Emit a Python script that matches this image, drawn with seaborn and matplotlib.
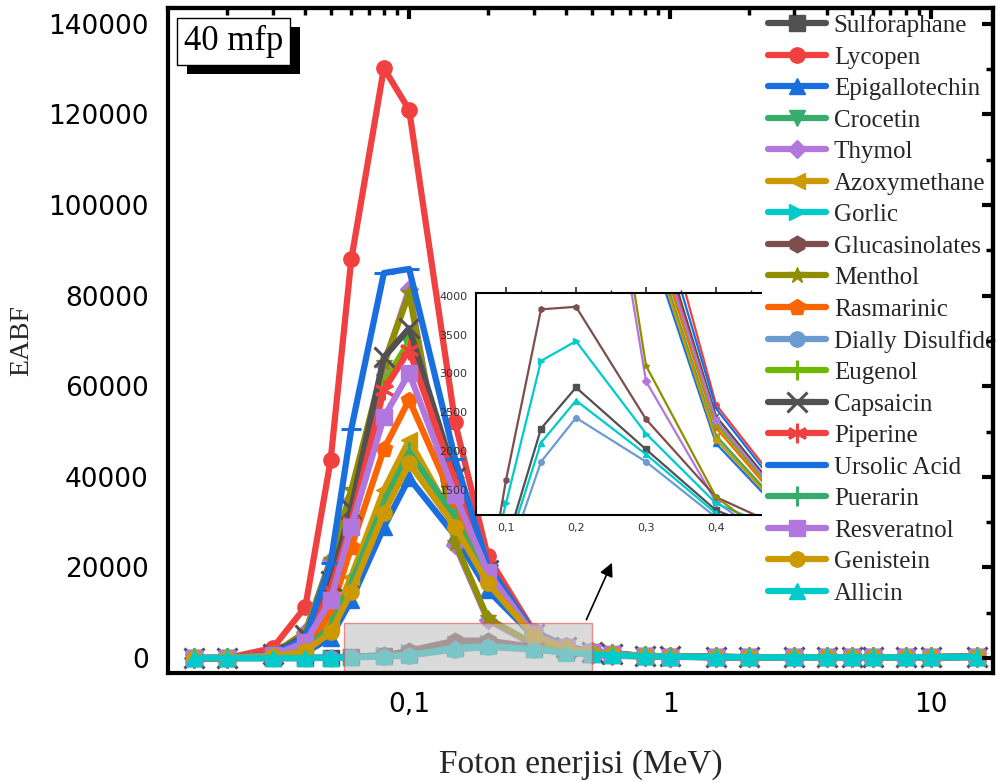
import matplotlib
matplotlib.use("Agg")
import matplotlib.pyplot as plt
import matplotlib.patheffects as pe
import seaborn as sns
from matplotlib.patches import Rectangle
from matplotlib.ticker import FixedLocator, FuncFormatter, LogLocator, MultipleLocator, NullFormatter

sns.set_theme(style="white")
plt.rcParams["font.family"] = ["DejaVu Sans"]

# ---------------- data ----------------
energy = [0.015, 0.02, 0.03, 0.04, 0.05, 0.06, 0.08, 0.1, 0.15, 0.2, 0.3, 0.4, 0.5,
          0.6, 0.8, 1, 1.5, 2, 3, 4, 5, 6, 8, 10, 15]

names = ["Sulforaphane", "Lycopen", "Epigallotechin", "Crocetin", "Thymol", "Azoxymethane",
         "Gorlic", "Glucasinolates", "Menthol", "Rasmarinic", "Dially Disulfide", "Eugenol",
         "Capsaicin", "Piperine", "Ursolic Acid", "Puerarin", "Resveratnol", "Genistein", "Allicin"]

sulforaphane = [0, 0, 3, 12, 50, 200, 400, 790, 2291, 2820, 2024, 1240, 900, 640, 420, 300, 215, 175, 148, 138, 134, 138, 152, 178, 236]
lycopen = [2, 5, 2200, 11300, 43700, 88000, 130200, 121000, 52000, 22500, 5900, 2600, 1450, 950, 520, 360, 250, 200, 170, 160, 160, 170, 190, 220, 300]
epigallotechin = [1, 2, 300, 1200, 4500, 12800, 28900, 39700, 27000, 15000, 4800, 2100, 1150, 800, 450, 320, 225, 185, 155, 145, 145, 155, 175, 200, 270]
crocetin = [1, 3, 700, 3500, 14000, 31000, 61000, 69500, 38000, 18500, 5200, 2350, 1300, 860, 480, 340, 240, 195, 165, 155, 155, 165, 185, 212, 285]
thymol = [1, 3, 850, 5700, 21600, 35000, 64700, 81500, 25000, 8400, 2900, 1350, 720, 520, 350, 260, 190, 160, 140, 132, 132, 140, 158, 185, 245]
azoxymethane = [1, 2, 400, 2000, 7500, 18000, 37100, 48100, 30000, 17000, 5000, 2200, 1220, 820, 460, 330, 230, 190, 160, 150, 150, 160, 180, 205, 275]
gorlic = [0, 0, 4, 15, 60, 250, 632, 1330, 3162, 3416, 2227, 1330, 950, 670, 430, 310, 220, 178, 150, 140, 135, 140, 155, 180, 240]
glucasinolates = [0, 0, 5, 20, 80, 300, 585, 1629, 3825, 3858, 2411, 1410, 1000, 700, 450, 320, 225, 182, 152, 142, 137, 142, 157, 182, 244]
menthol = [1, 3, 900, 5700, 21600, 37000, 65100, 80500, 25500, 8800, 3100, 1410, 750, 540, 360, 265, 195, 163, 142, 134, 134, 142, 160, 188, 250]
rasmarinic = [1, 3, 500, 2500, 10000, 24500, 46100, 57000, 34000, 18000, 5100, 2300, 1260, 840, 470, 335, 235, 192, 162, 152, 152, 162, 182, 208, 280]
dially = [0, 0, 2, 8, 40, 150, 300, 548, 1865, 2430, 1865, 1150, 850, 600, 400, 290, 210, 172, 146, 136, 132, 136, 150, 175, 232]
eugenol = [1, 3, 700, 3500, 14000, 30500, 60500, 70000, 38000, 18500, 5200, 2350, 1300, 860, 480, 340, 240, 195, 165, 155, 155, 165, 185, 212, 285]
capsaicin = [1, 3, 800, 5000, 17000, 33000, 66400, 72800, 40000, 19500, 5400, 2450, 1350, 900, 490, 345, 240, 195, 165, 155, 155, 165, 185, 215, 290]
piperine = [1, 3, 750, 4000, 15000, 30000, 59200, 68000, 39000, 19000, 5300, 2400, 1320, 890, 485, 340, 240, 195, 165, 155, 155, 165, 185, 215, 290]
ursolic = [1, 3, 700, 4500, 21000, 50600, 85000, 85900, 44000, 20500, 5600, 2550, 1400, 920, 500, 350, 240, 195, 165, 155, 155, 165, 185, 215, 290]
puerarin = [1, 2, 400, 1800, 7000, 16500, 34200, 45500, 31000, 17000, 4950, 2200, 1200, 810, 455, 328, 228, 188, 158, 148, 148, 158, 178, 203, 272]
resveratnol = [1, 3, 600, 3500, 12800, 28900, 53200, 62900, 36000, 19000, 5200, 2400, 1320, 880, 480, 340, 238, 194, 164, 154, 154, 164, 184, 212, 286]
genistein = [1, 2, 350, 1500, 5700, 14600, 32000, 43000, 29000, 16600, 4900, 2150, 1180, 805, 452, 325, 226, 186, 156, 146, 146, 156, 176, 202, 271]
allicin = [0, 0, 3, 10, 45, 180, 350, 700, 2110, 2652, 1960, 1200, 880, 620, 410, 295, 212, 174, 147, 137, 133, 137, 151, 176, 234]

series = [sulforaphane, lycopen, epigallotechin, crocetin, thymol, azoxymethane, gorlic,
          glucasinolates, menthol, rasmarinic, dially, eugenol, capsaicin, piperine, ursolic,
          puerarin, resveratnol, genistein, allicin]

colors = ["#515151", "#F14040", "#1A6FDF", "#37AD6B", "#B177DE", "#CC9900", "#00CBCC",
          "#7D4E4E", "#8E8E00", "#FB6501", "#6C9BD2", "#6FB802", "#515151", "#F14040",
          "#1A6FDF", "#37AD6B", "#B177DE", "#CC9900", "#00CBCC"]
markers = ["s", "o", "^", "v", "D", "<", ">", "h", "*", "p", "o", "|", "x", (6, 2, 0),
           "_", "|", "s", "o", "^"]
line_markers = {"|", "x", "_"}

inset_xticks = [0.1, 0.2, 0.3, 0.4]

# ---------------- figure ----------------
fig = plt.figure(figsize=(10, 7.82), dpi=100)
ax = fig.add_axes([0.168, 1 - 673 / 782, 0.825, 665 / 782])
ax.set_facecolor("white")

for name, vals, c, m in zip(names, series, colors, markers):
    is_line = (m in line_markers) if isinstance(m, str) else True
    ms = 11 if m not in ("D", "*", "h", "p") else (9 if m == "D" else 12)
    if is_line:
        ms = 14
    sns.lineplot(x=energy, y=vals, ax=ax, color=c, marker=m, lw=4.5, ms=ms,
                 mec=c, mfc=c, mew=(2.2 if is_line else 1), label=name, zorder=2)

ax.set_xscale("log")
ax.set_xlim(0.0119, 17.3)
ax.set_ylim(-3300, 143500)

fmt = FuncFormatter(lambda v, _: f"{v:g}".replace(".", ","))
ax.xaxis.set_major_locator(FixedLocator([0.1, 1, 10]))
ax.xaxis.set_major_formatter(fmt)
ax.xaxis.set_minor_locator(LogLocator(base=10, subs=range(2, 10)))
ax.xaxis.set_minor_formatter(NullFormatter())
ax.yaxis.set_major_locator(MultipleLocator(20000))
ax.yaxis.set_minor_locator(MultipleLocator(10000))
ax.yaxis.set_major_formatter(FuncFormatter(lambda v, _: f"{v:.0f}"))

for s in ax.spines.values():
    s.set_linewidth(3)
    s.set_color("black")
    s.set_zorder(30)
ax.tick_params(which="major", direction="out", length=8, width=3, labelsize=19,
               colors="black", pad=6)
ax.tick_params(which="minor", direction="out", length=5, width=2.5, colors="black")

# inward mirror ticks on top and right
top = ax.secondary_xaxis("top")
top.xaxis.set_major_locator(FixedLocator([0.1, 1, 10]))
top.xaxis.set_minor_locator(LogLocator(base=10, subs=range(2, 10)))
top.tick_params(which="major", direction="in", length=8, width=3, labeltop=False, colors="black")
top.tick_params(which="minor", direction="in", length=5, width=2.5, colors="black")
top.xaxis.set_major_formatter(NullFormatter())
top.xaxis.set_minor_formatter(NullFormatter())
for s in top.spines.values():
    s.set_linewidth(3)
    s.set_color("black")
top.set_zorder(30)
right = ax.secondary_yaxis("right")
right.yaxis.set_major_locator(MultipleLocator(20000))
right.yaxis.set_minor_locator(MultipleLocator(10000))
right.tick_params(which="major", direction="in", length=8, width=3, labelright=False, colors="black")
right.tick_params(which="minor", direction="in", length=5, width=2.5, colors="black")
right.yaxis.set_major_formatter(NullFormatter())
for s in right.spines.values():
    s.set_linewidth(3)
    s.set_color("black")
right.set_zorder(30)

ax.set_xlabel("Foton enerjisi (MeV)", family="Liberation Serif", fontsize=24, labelpad=22)
ax.set_ylabel("EABF", family="Liberation Serif", fontsize=20, labelpad=10)

# zoom box and arrow
zx0, zx1, zy0, zy1 = 0.0564, 0.503, -3300, 7700
ax.add_patch(Rectangle((zx0, zy0), zx1 - zx0, zy1 - zy0, facecolor="#C4C4C4", alpha=0.62,
                       edgecolor="#E05050", lw=1.0, zorder=3))
ax.annotate("", xy=(0.605, 21600), xytext=(0.473, zy1 + 200),
            arrowprops=dict(arrowstyle="-|>", color="black", lw=1.2, mutation_scale=20),
            zorder=4)

# "40 mfp" label with shadow
lbl = ax.text(0.079, 0.949, "40 mfp", transform=ax.transAxes, family="Liberation Serif",
              fontsize=25, ha="center", va="center", color="black",
              bbox=dict(boxstyle="square,pad=0.2", fc="white", ec="black", lw=1), zorder=7)
lbl.get_bbox_patch().set_path_effects([
    pe.SimplePatchShadow(offset=(7.2, -6.5), shadow_rgbFace="black", alpha=1.0),
    pe.Normal()])

# ---------------- inset ----------------
ins = ax.inset_axes([0.3733, 0.2376, 0.3758, 0.3338])
ins.set_facecolor("white")
for name, vals, c, m in zip(names, series, colors, markers):
    sns.lineplot(x=energy, y=vals, ax=ins, color=c, marker=m, lw=1.6, ms=4,
                 mec=c, mfc=c, mew=1, legend=False)
ins.set_xlim(0.0571, 0.5)
ins.set_ylim(1180, 4035)
ins.xaxis.set_major_locator(FixedLocator(inset_xticks))
ins.xaxis.set_minor_locator(MultipleLocator(0.05))
ins.xaxis.set_major_formatter(FuncFormatter(lambda v, _: f"{v:.1f}".replace(".", ",")))
ins.yaxis.set_major_locator(MultipleLocator(500))
ins.yaxis.set_minor_locator(MultipleLocator(250))
ins.yaxis.set_major_formatter(FuncFormatter(lambda v, _: f"{v:.0f}"))
for s in ins.spines.values():
    s.set_linewidth(1.5)
    s.set_color("black")
ins.tick_params(which="major", direction="out", length=4, width=1.2, labelsize=8,
                labelcolor="#333333", pad=2)
ins.tick_params(which="minor", direction="out", length=2.5, width=1)
ins.tick_params(axis="x", which="both", top=True)
ins.set_xlabel("")
ins.set_ylabel("")

# ---------------- legend ----------------
leg = ax.legend(loc="upper left", bbox_to_anchor=(0.72, 1.0), borderaxespad=0,
                frameon=True, facecolor="white", edgecolor="none", framealpha=1,
                fancybox=False, prop={"family": "Liberation Serif", "size": 18},
                handlelength=2.3, handletextpad=0.32, labelspacing=0.36, borderpad=0.25)
leg.set_zorder(20)

fig.savefig("out.png", dpi=100, facecolor="white")
